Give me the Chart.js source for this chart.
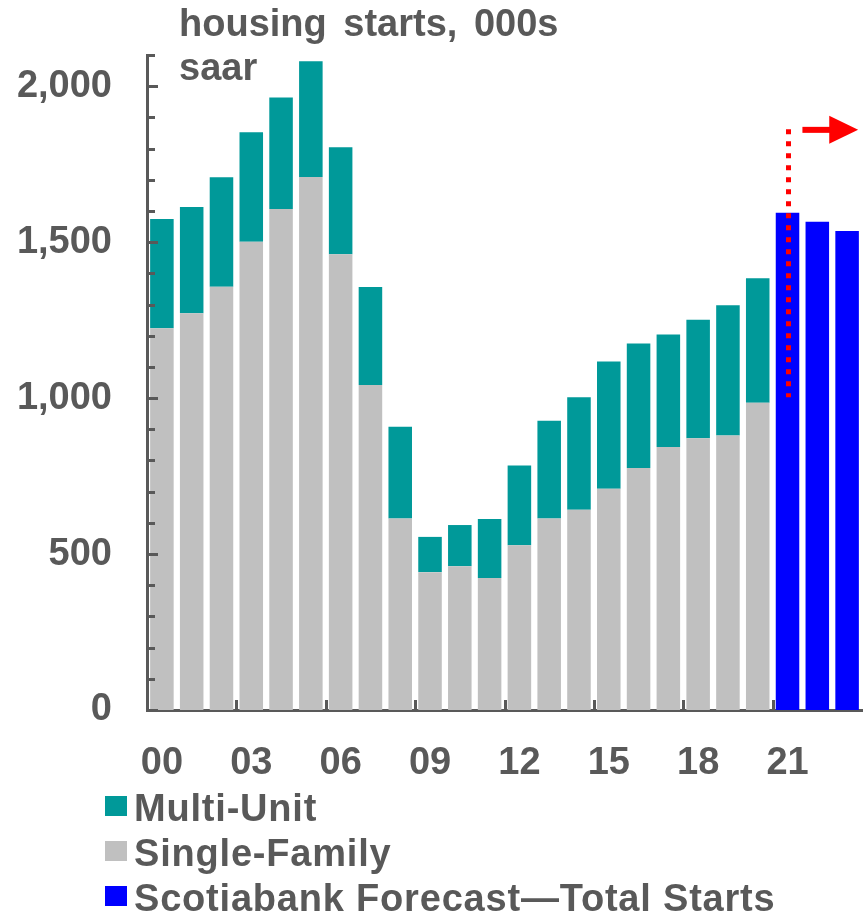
<!DOCTYPE html>
<html>
<head>
<meta charset="utf-8">
<title>housing starts</title>
<script src="https://cdn.jsdelivr.net/npm/chart.js@4.4.1/dist/chart.umd.min.js"></script>
<style>
    body { margin: 0; background: #fff; }
    #wrap { position: relative; width: 866px; height: 923px; overflow: hidden; }
    #chart { position: absolute; left: 0; top: 0; }
    .txt { font-family: "Liberation Sans", Arial, sans-serif; font-weight: bold; font-size: 38px; color: #595959; }
    #title { position: absolute; left: 179px; top: 1px; line-height: 44px; word-spacing: 6px; }
    #legend { position: absolute; left: 105px; top: 786px; line-height: 45px; letter-spacing: 0.8px; }
    #legend .row { white-space: nowrap; }
    #legend .box { display: inline-block; width: 22px; height: 20px; margin: 0 7px 5px 0; vertical-align: baseline; }
</style>
</head>
<body>
<div id="wrap">
    <canvas id="chart" width="866" height="923"></canvas>
    <div id="title" class="txt">housing starts, 000s<br>saar</div>
    <div id="legend" class="txt"></div>
</div>
<script>
// 年份（2000-2023）
const years = ['00', '01', '02', '03', '04', '05', '06', '07', '08', '09', '10', '11',
               '12', '13', '14', '15', '16', '17', '18', '19', '20', '21', '22', '23'];

// 单户住宅开工（千套）
const singleFamily = [1224, 1272, 1357, 1501, 1606, 1709, 1461, 1042, 614, 442, 461, 423,
                      528, 614, 642, 709, 776, 843, 871, 880, 985, null, null, null];

// 多户住宅开工（千套）
const multiUnit = [350, 341, 351, 351, 358, 371, 343, 314, 294, 113, 132, 189,
                   256, 313, 361, 408, 399, 361, 380, 418, 399, null, null, null];

// 预测：总开工
const forecastTotal = [null, null, null, null, null, null, null, null, null, null, null, null,
                       null, null, null, null, null, null, null, null, null, 1594, 1565, 1536];

// 红色虚线范围和箭头高度（数据坐标）
const markerRange = [1003, 1862];
const arrowLevel = 1860;

// 颜色
const tealColor = '#009999';
const greyColor = '#C0C0C0';
const blueColor = '#0000FF';
const axisColor = '#595959';
const redColor = '#FF0000';

const fontFamily = '"Liberation Sans", Arial, sans-serif';

/**
 * 坐标轴内侧刻度、红色虚线和箭头
 */
const markPlugin = {
    id: 'axisMarks',
    afterDatasetsDraw(chart) {
        const ctx = chart.ctx;
        const xs = chart.scales.x;
        const ys = chart.scales.y;
        const area = chart.chartArea;

        ctx.save();
        ctx.strokeStyle = axisColor;
        ctx.lineWidth = 3;

        // y轴刻度，朝内
        ys.ticks.forEach(function(t) {
            const py = Math.round(ys.getPixelForValue(t.value)) + 0.5;
            const len = t.value % 500 === 0 ? 11 : 8;
            ctx.beginPath();
            ctx.moveTo(area.left, py);
            ctx.lineTo(area.left + len, py);
            ctx.stroke();
        });

        // x轴刻度，每三年一个，朝上
        xs.ticks.forEach(function(t, i) {
            if (i === 0 || t.label === '') return;
            const px = Math.round(xs.getPixelForValue(i - 0.5)) + 0.5;
            ctx.beginPath();
            ctx.moveTo(px, area.bottom);
            ctx.lineTo(px, area.bottom - 10);
            ctx.stroke();
        });

        // 红色点线
        const lx = Math.round(xs.getPixelForValue(21)) + 0.5;
        ctx.strokeStyle = redColor;
        ctx.lineWidth = 5;
        ctx.setLineDash([5, 7]);
        ctx.beginPath();
        ctx.moveTo(lx, ys.getPixelForValue(markerRange[1]));
        ctx.lineTo(lx, ys.getPixelForValue(markerRange[0]));
        ctx.stroke();
        ctx.setLineDash([]);

        // 红色箭头
        const ay = ys.getPixelForValue(arrowLevel);
        const x0 = xs.getPixelForValue(21.5);
        const xHead = xs.getPixelForValue(22.4);
        const xTip = xs.getPixelForValue(23.37);
        ctx.fillStyle = redColor;
        ctx.fillRect(x0, ay - 3, xHead - x0 + 1, 6);
        ctx.beginPath();
        ctx.moveTo(xHead, ay - 14);
        ctx.lineTo(xTip, ay);
        ctx.lineTo(xHead, ay + 14);
        ctx.closePath();
        ctx.fill();

        ctx.restore();
    }
};

/**
 * 创建图表
 */
function buildChart() {
    const ctx = document.getElementById('chart').getContext('2d');
    return new Chart(ctx, {
        type: 'bar',
        data: {
            labels: years,
            datasets: [
                {
                    label: 'Single-Family',
                    data: singleFamily,
                    backgroundColor: greyColor,
                    stack: 's'
                },
                {
                    label: 'Multi-Unit',
                    data: multiUnit,
                    backgroundColor: tealColor,
                    stack: 's'
                },
                {
                    label: 'Scotiabank Forecast\u2014Total Starts',
                    data: forecastTotal,
                    backgroundColor: blueColor,
                    stack: 's'
                }
            ]
        },
        options: {
            responsive: false,
            devicePixelRatio: 1,
            animation: false,
            barPercentage: 0.79,
            categoryPercentage: 1,
            layout: { padding: { top: 55, right: 4, left: 0, bottom: 0 } },
            plugins: {
                legend: { display: false },
                title: { display: false },
                tooltip: { enabled: false }
            },
            scales: {
                x: {
                    stacked: true,
                    grid: { display: false, drawTicks: false },
                    border: { display: true, color: axisColor, width: 3 },
                    ticks: {
                        autoSkip: false,
                        maxRotation: 0,
                        padding: 31,
                        color: axisColor,
                        font: { family: fontFamily, size: 38, weight: 'bold' },
                        callback: function(v, i) {
                            return (i % 3 === 0 && i <= 21) ? years[i] : '';
                        }
                    },
                    afterFit: function(s) {
                        s.height = 213;
                        s.paddingLeft = 0;
                        s.paddingRight = 0;
                    }
                },
                y: {
                    stacked: true,
                    min: 0,
                    max: 2100,
                    grid: { display: false, drawTicks: false },
                    border: { display: true, color: axisColor, width: 3 },
                    ticks: {
                        stepSize: 100,
                        autoSkip: false,
                        padding: 35,
                        color: axisColor,
                        font: { family: fontFamily, size: 38, weight: 'bold' },
                        callback: function(v) {
                            return v % 500 === 0 ? v.toLocaleString('en-US') : '';
                        }
                    },
                    afterFit: function(s) {
                        s.width = 147;
                        s.paddingTop = 0;
                        s.paddingBottom = 0;
                    }
                }
            }
        },
        plugins: [markPlugin]
    });
}

/**
 * 生成图例（竖排）
 */
function buildLegend(chart) {
    const order = [1, 0, 2];
    const el = document.getElementById('legend');
    order.forEach(function(i) {
        const ds = chart.data.datasets[i];
        const row = document.createElement('div');
        row.className = 'row';
        const box = document.createElement('span');
        box.className = 'box';
        box.style.background = ds.backgroundColor;
        row.appendChild(box);
        row.appendChild(document.createTextNode(ds.label));
        el.appendChild(row);
    });
}

const housingChart = buildChart();
buildLegend(housingChart);
</script>
</body>
</html>
